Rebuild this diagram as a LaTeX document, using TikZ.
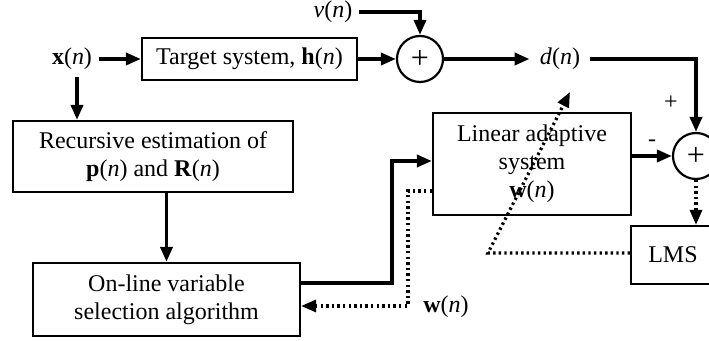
\documentclass[tikz,border=0pt]{standalone}
\usepackage{fontspec}
\setmainfont{Liberation Serif}
\usetikzlibrary{arrows.meta, positioning, calc}
\newcommand{\sig}[1]{#1(\textit{n})}

\begin{document}
\begin{tikzpicture}[x=0.5pt, y=-0.5pt, font=\fontsize{12}{14}\selectfont,
    blk/.style={draw, line width=1.1pt, align=center, inner sep=0pt},
    sum/.style={draw, circle, line width=1.1pt, minimum size=23pt, inner sep=0pt,
      font=\fontsize{16}{16}\selectfont},
    arr/.style={line width=1.8pt, -{Triangle[length=7.5pt,width=6pt]}},
    dotarr/.style={line width=1.6pt, dash pattern=on 1.2pt off 1.6pt,
      -{Triangle[length=7.5pt,width=6pt]}}]
  \useasboundingbox (0,0) rectangle (709,341);

  \node (xin) at (72,59) {\sig{\textbf{x}}};
  \node[blk, minimum width=107.5pt, minimum height=21pt] (tgt) at (249.5,59)
    {Target system, \sig{\textbf{h}}};
  \node[sum] (sum1) at (420,59) {+};
  \node (vn) at (333,12) {\sig{\textit{v}}};
  \node[inner sep=5pt] (dn) at (560,59) {\sig{\textit{d}}};
  \node[blk, minimum width=140pt, minimum height=35.5pt] (rec) at (153,156.5)
    {Recursive estimation of\\\sig{\textbf{p}} and \sig{\textbf{R}}};
  \node[blk, minimum width=133.5pt, minimum height=36.5pt] (sel) at (166.5,299.5)
    {On-line variable\\selection algorithm};
  \node[blk, minimum width=99pt, minimum height=51pt] (lin) at (532,164)
    {Linear adaptive\\system\\\sig{\textbf{w}}};
  \node[sum] (sum2) at (696,156) {+};
  \node[blk, minimum width=42pt, minimum height=29pt] (lms) at (673,255) {LMS};
  \node (pl) at (671,103) {+};
  \node (mi) at (652,143) {-};
  \node (wn) at (446,307) {\sig{\textbf{w}}};

  \coordinate (j1) at (392,283);
  \coordinate (j2) at (392,161);
  \coordinate (k1) at (408,191);
  \coordinate (k2) at (408,306);
  \coordinate (c1) at (488,253);
  \coordinate (tip) at (570,92);

  \draw[arr] (xin) -- (tgt);
  \draw[arr] ([xshift=2.5pt]xin.south) -- ([xshift=2.5pt]xin.south |- rec.north);
  \draw[arr] (tgt) -- (sum1);
  \draw[arr] (vn) -| (sum1);
  \draw[arr] (sum1) -- (dn);
  \draw[arr] (dn) -| (sum2);
  \draw[arr] (sel.north |- rec.south) -- (sel.north);
  \draw[arr] (sel.east |- j1) -- (j1) -- (j2) -- (lin.west |- j2);
  \draw[dotarr] (lin.west |- k1) -- (k1) -- (k2) -- (sel.east |- k2);
  \draw[arr] (lin.east |- sum2) -- (sum2.west);
  \draw[dotarr] (sum2.south) -- (sum2.south |- lms.north);
  \draw[dotarr] (lms.west |- c1) -- (c1) -- (tip);
\end{tikzpicture}
\end{document}
